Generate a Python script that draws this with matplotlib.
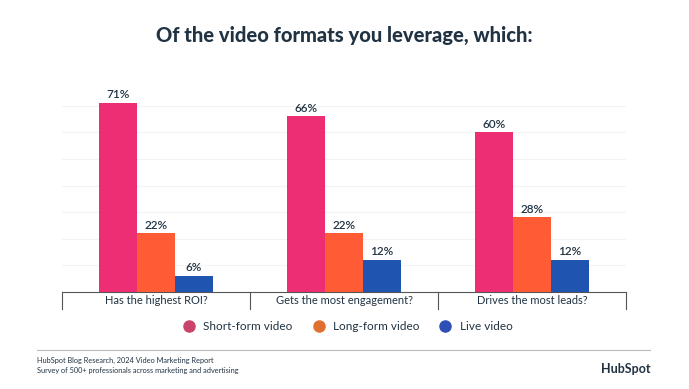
import matplotlib.pyplot as plt
import numpy as np

categories = ["Has the highest ROI?", "Gets the most engagement?", "Drives the most leads?"]
series = ["Short-form video", "Long-form video", "Live video"]
short_form = [71, 66, 60]
long_form = [22, 22, 28]
live = [6, 12, 12]

colors = ["#EE2E74", "#FF5C35", "#1F55B0"]
legend_colors = ["#C9436A", "#E0702F", "#2E4FB5"]
text_dark = "#213343"

plt.rcParams['font.family'] = ['Lato', 'DejaVu Sans']

fig = plt.figure(figsize=(6.89, 3.89), dpi=100)
ax = fig.add_axes([62 / 689, 1 - 292 / 389, 564 / 689, 189 / 389 * 72 / 71])

x = np.arange(len(categories))
width = 0.202
for i, (vals, c) in enumerate(zip([short_form, long_form, live], colors)):
    pos = x + (i - 1) * width
    ax.bar(pos, vals, width=width, color=c, zorder=3, label=series[i])
    for p, v in zip(pos, vals):
        ax.text(p, v + 1, f"{v}%", ha="center", va="bottom", fontsize=8.5,
                fontweight="semibold", color=text_dark, clip_on=False)

ax.set_xlim(-0.5, 2.5)
ax.set_ylim(0, 72)
ax.set_yticks(range(10, 71, 10))
ax.yaxis.grid(True, color="#F3F3F3", linewidth=0.8, zorder=0)
ax.tick_params(axis="y", left=False, labelleft=False)
for s in ["top", "right", "left"]:
    ax.spines[s].set_visible(False)
ax.spines["bottom"].set_color("#555555")
ax.spines["bottom"].set_linewidth(0.8)

ax.set_xticks(x)
ax.set_xticklabels(categories, fontsize=8, color=text_dark)
ax.tick_params(axis="x", length=0, pad=2)
# group separators
for b in [-0.5, 0.5, 1.5, 2.5]:
    ax.plot([b, b], [0, -6.5], color="#555555", linewidth=0.8, clip_on=False)

fig.text(0.5, 1 - 35 / 389, "Of the video formats you leverage, which:",
         ha="center", va="center", fontsize=14.5, fontweight="black", color=text_dark)

# legend
handles = [plt.Line2D([], [], marker="o", linestyle="", markersize=8,
                      markerfacecolor=c, markeredgecolor=c) for c in legend_colors]
fig.legend(handles, series, loc="center", bbox_to_anchor=(345 / 689, 1 - 327 / 389),
           ncol=3, frameon=False, fontsize=8.5, handletextpad=0.2, columnspacing=1.2,
           labelcolor=text_dark)

fig.add_artist(plt.Line2D([37 / 689, 650 / 689], [1 - 350 / 389] * 2,
                          color="#BBBBBB", linewidth=0.8))
fig.text(37 / 689, 1 - 360 / 389, "HubSpot Blog Research, 2024 Video Marketing Report",
         fontsize=5.3, color=text_dark, va="center")
fig.text(37 / 689, 1 - 370 / 389, "Survey of 500+ professionals across marketing and advertising",
         fontsize=5.3, color=text_dark, va="center")
fig.text(626 / 689, 1 - 369 / 389, "HubSpot", fontsize=9, fontweight="bold",
         color=text_dark, ha="center", va="center")

fig.savefig("out.png", dpi=100, facecolor="white")
